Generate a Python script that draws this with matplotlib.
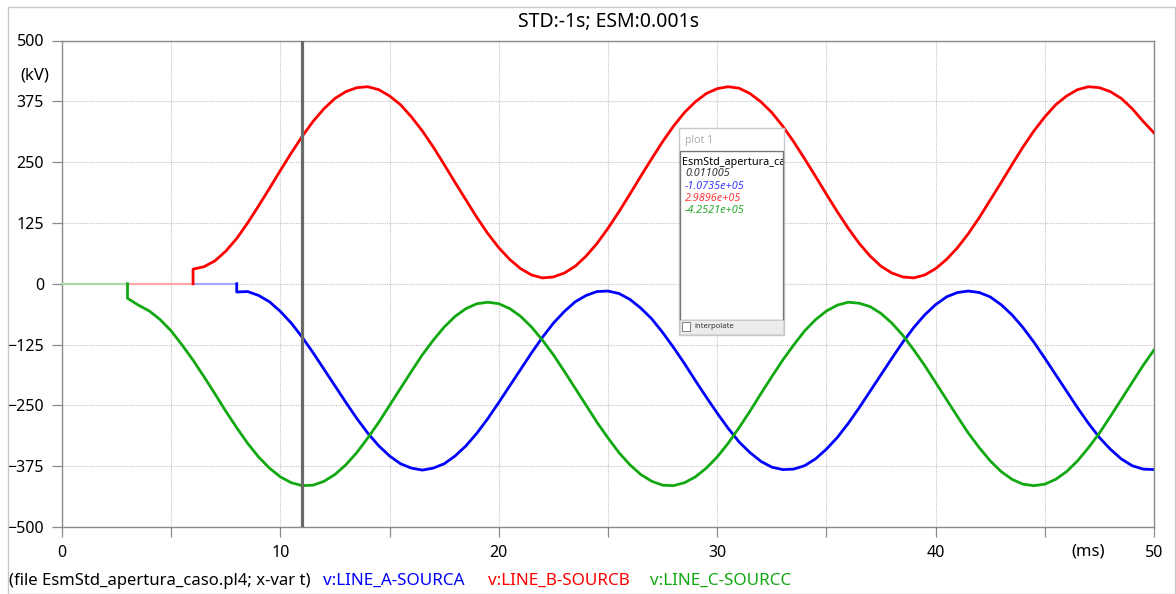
import matplotlib.pyplot as plt
import matplotlib.patches as mpatches
import numpy as np

plt.rcParams["font.family"] = ["Noto Sans", "DejaVu Sans"]

# closing instants of each phase (ms); before that the voltage is 0
start_a, start_b, start_c = 8.0, 6.0, 3.0
step = 0.5  # ms between the values

# voltages (kV) read every 0.5 ms from the closing instant up to 50 ms
v_a = [-17, -16, -24, -37, -57, -81, -110, -142, -176, -210,
       -244, -277, -307, -333, -354, -370, -379, -383, -379, -370,
       -354, -333, -307, -277, -244, -210, -176, -142, -110, -81,
       -57, -37, -24, -16, -15, -20, -32, -50, -72, -100,
       -131, -164, -199, -233, -266, -297, -325, -347, -365, -377,
       -382, -381, -374, -360, -340, -316, -287, -255, -221, -187,
       -153, -120, -90, -64, -43, -27, -18, -15, -18, -27,
       -43, -64, -90, -120, -153, -187, -221, -255, -287, -316,
       -340, -360, -374, -381, -382]
v_b = [30, 35, 47, 67, 93, 125, 160, 196, 233, 269,
       303, 334, 360, 381, 395, 403, 405, 399, 386, 368,
       343, 314, 281, 245, 208, 172, 136, 103, 74, 50,
       31, 18, 12, 14, 22, 36, 57, 83, 114, 148,
       184, 221, 257, 292, 324, 352, 374, 391, 401, 405,
       402, 391, 374, 352, 324, 292, 257, 221, 184, 148,
       114, 83, 57, 36, 22, 14, 12, 18, 31, 50,
       74, 103, 136, 172, 208, 245, 281, 314, 343, 368,
       386, 399, 405, 403, 395, 381, 360, 334, 310]
v_c = [-30, -44, -56, -74, -97, -126, -157, -191, -226, -262,
       -296, -328, -356, -379, -397, -409, -415, -414, -406, -392,
       -372, -347, -317, -285, -250, -215, -180, -146, -116, -89,
       -67, -51, -41, -38, -41, -51, -67, -89, -116, -146,
       -180, -215, -250, -285, -317, -347, -372, -392, -406, -414,
       -415, -409, -397, -379, -356, -328, -296, -262, -226, -191,
       -157, -126, -97, -74, -56, -44, -38, -40, -47, -61,
       -81, -106, -136, -168, -203, -238, -273, -307, -337, -364,
       -386, -402, -412, -415, -412, -402, -386, -364, -337, -307,
       -273, -238, -203, -168, -136]

t_a = np.arange(len(v_a)) * step + start_a
t_b = np.arange(len(v_b)) * step + start_b
t_c = np.arange(len(v_c)) * step + start_c

series_names = ["v:LINE_A-SOURCA", "v:LINE_B-SOURCB", "v:LINE_C-SOURCC"]
cursor_t = 11.005
cursor_labels = ["0.011005", "-1.0735e+05", "2.9896e+05", "-4.2521e+05"]
x_ticks = [0, 10, 20, 30, 40, 50]
x_minor = [5, 15, 25, 35, 45]
y_ticks = [500, 375, 250, 125, 0, -125, -250, -375, -500]

colors = {"a": "#0000ff", "b": "#ff0000", "c": "#12a812"}
pale = {"a": "#a6a6ff", "b": "#ffa6a6", "c": "#a6dca6"}

W, H = 1176, 594
fig = plt.figure(figsize=(W / 100, H / 100), dpi=100)
ax = fig.add_axes([62 / W, 1 - 527 / H, (1154 - 62) / W, (527 - 40.5) / H])

# phase A under B under C, as in the original plot
for key, t, v, t0, z in [("a", t_a, v_a, start_a, 2),
                         ("b", t_b, v_b, start_b, 3),
                         ("c", t_c, v_c, start_c, 4)]:
    ax.plot([0, t0], [0, 0], color=pale[key], lw=1.5, zorder=z)
    ax.plot(np.r_[t0, t], np.r_[0, v], color=colors[key], lw=2.0, zorder=z)

ax.axvline(cursor_t, color="#6a6a6a", lw=2.3, zorder=6)

ax.set_xlim(0, 50)
ax.set_ylim(-500, 500)
ax.set_xticks(x_ticks)
ax.set_xticks(x_minor, minor=True)
ax.set_yticks(y_ticks)
ax.grid(which="both", color="#c4c4c4", linestyle=(0, (1, 1)), lw=0.8, zorder=0)
ax.tick_params(which="both", length=7, width=0.9, color="#8a8a8a",
               labelsize=11.5, direction="out")
ax.tick_params(axis="x", pad=6)
ax.tick_params(axis="y", pad=6)
for s in ax.spines.values():
    s.set_color("#8a8a8a")
    s.set_linewidth(1.0)

ax.set_title("STD:-1s; ESM:0.001s", fontsize=14, pad=10)
fig.text(35 / W, 1 - 76 / H, "(kV)", ha="center", va="center", fontsize=12)
fig.text(1088 / W, 1 - 551 / H, "(ms)", ha="center", va="center", fontsize=12)

# file / variable line under the plot
fig.text(9 / W, 1 - 581 / H, "(file EsmStd_apertura_caso.pl4; x-var t)",
         va="center", fontsize=12)
for name, x, key in zip(series_names, [323, 488, 650], ["a", "b", "c"]):
    fig.text(x / W, 1 - 581 / H, name, va="center", fontsize=12.3, color=colors[key])

# outer panel border
fig.add_artist(mpatches.Rectangle((8 / W, 0), (1175 - 8) / W, 1 - 7 / H,
                                  transform=fig.transFigure, fill=False,
                                  ec="#c8c8c8", lw=1.0))


def box(x0, y0, x1, y1, **kw):
    r = mpatches.Rectangle((x0 / W, 1 - y1 / H), (x1 - x0) / W, (y1 - y0) / H,
                           transform=fig.transFigure, **kw)
    fig.add_artist(r)
    return r


# cursor value window "plot 1"
box(679, 128, 784, 335, fc="white", ec="#c8c8c8", lw=1.0, zorder=10)
fig.text(685 / W, 1 - 140 / H, "plot 1", va="center", fontsize=7.5, color="#b0b0b0", zorder=11)
inner = box(680, 151, 783, 320, fc="white", ec="#7a7a7a", lw=1.0, zorder=11)
box(680, 320, 783, 334, fc="#ececec", ec="#d0d0d0", lw=0.6, zorder=11)
box(682, 322, 690, 331, fc="white", ec="#808080", lw=0.7, zorder=12)
fig.text(694 / W, 1 - 327 / H, "interpolate", va="center", fontsize=5.5, color="#333333", zorder=12)

head = fig.text(682 / W, 1 - 162 / H, "EsmStd_apertura_caso", va="center",
                fontsize=7.8, fontweight="bold", zorder=12)
head.set_clip_path(inner)
txt_colors = ["#333333", "#3a3aff", "#ff3a3a", "#2aa82a"]
for i, (lab, c) in enumerate(zip(cursor_labels, txt_colors)):
    fig.text(685 / W, 1 - (174 + 12.2 * i) / H, lab, va="center", fontsize=7.8,
             style="italic", color=c, zorder=12)

fig.savefig("out.png", dpi=100)
